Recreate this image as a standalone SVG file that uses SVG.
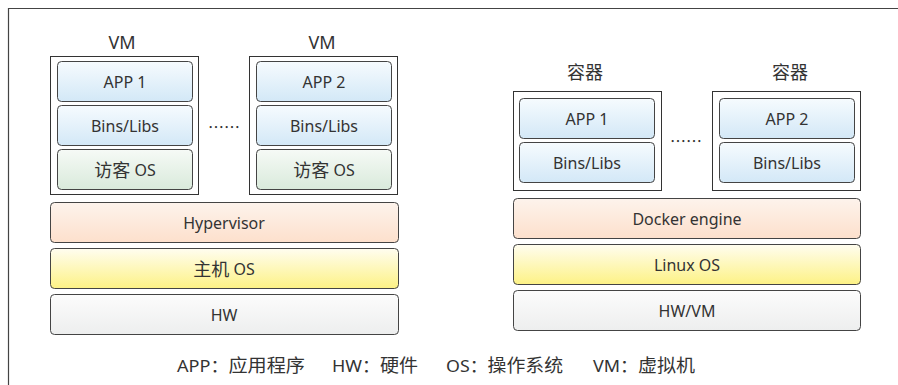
<svg xmlns="http://www.w3.org/2000/svg" width="898" height="385" viewBox="0 0 898 385">
<defs>
<linearGradient id="gBlue" x1="0" y1="0" x2="0" y2="1"><stop offset="0" stop-color="#f6fbfe"/><stop offset="1" stop-color="#d3e8f7"/></linearGradient>
<linearGradient id="gGreen" x1="0" y1="0" x2="0" y2="1"><stop offset="0" stop-color="#f6faf6"/><stop offset="1" stop-color="#d9eadb"/></linearGradient>
<linearGradient id="gPeach" x1="0" y1="0" x2="0" y2="1"><stop offset="0" stop-color="#fdf3ec"/><stop offset="1" stop-color="#fde0cc"/></linearGradient>
<linearGradient id="gYellow" x1="0" y1="0" x2="0" y2="1"><stop offset="0" stop-color="#fffdf0"/><stop offset="1" stop-color="#fdf285"/></linearGradient>
<linearGradient id="gGray" x1="0" y1="0" x2="0" y2="1"><stop offset="0" stop-color="#fcfcfc"/><stop offset="1" stop-color="#edeeee"/></linearGradient>
<style>
.t{font-family:"Noto Sans","Noto Sans CJK SC",sans-serif;font-size:16px;fill:#333;text-anchor:middle;dominant-baseline:central}
.lg{font-family:"Noto Sans","Noto Sans CJK SC",sans-serif;font-size:17px;fill:#333;dominant-baseline:central}
.dots{font-family:"Noto Sans CJK SC",sans-serif;font-size:16px;fill:#333;dominant-baseline:central}
.cj{font-size:18px}
.lyr{stroke:#444;stroke-width:1}
.box{fill:#fff;stroke:#333;stroke-width:1}
.blue{fill:url(#gBlue)}
.green{fill:url(#gGreen)}
.peach{fill:url(#gPeach)}
.yellow{fill:url(#gYellow)}
.gray{fill:url(#gGray)}
</style>
</defs>
<rect width="898" height="385" fill="#fff"/>
<path d="M8.5,385 V8.5 H898" fill="none" stroke="#444" stroke-width="1.2"/>

<g id="vm1">
<text class="t cj" x="122" y="42">VM</text>
<rect class="box" x="50.5" y="56.5" width="148" height="138"/>
<rect class="lyr blue" x="57.5" y="61.5" width="135" height="40" rx="4"/>
<text class="t" x="125" y="81.5">APP 1</text>
<rect class="lyr blue" x="57.5" y="105.5" width="135" height="40" rx="4"/>
<text class="t" x="125" y="125.5">Bins/Libs</text>
<rect class="lyr green" x="57.5" y="149.5" width="135" height="40" rx="4"/>
<text class="t" x="125" y="169.5"><tspan class="cj">访客</tspan> OS</text>
</g>
<g id="vm2">
<text class="t cj" x="322" y="42">VM</text>
<rect class="box" x="249.5" y="56.5" width="148" height="138"/>
<rect class="lyr blue" x="256.5" y="61.5" width="135" height="40" rx="4"/>
<text class="t" x="324" y="81.5">APP 2</text>
<rect class="lyr blue" x="256.5" y="105.5" width="135" height="40" rx="4"/>
<text class="t" x="324" y="125.5">Bins/Libs</text>
<rect class="lyr green" x="256.5" y="149.5" width="135" height="40" rx="4"/>
<text class="t" x="324" y="169.5"><tspan class="cj">访客</tspan> OS</text>
</g>
<g id="dots1"><text class="dots" x="208" y="126">……</text></g>
<g id="hypervisor">
<rect class="lyr peach" x="50.5" y="202.5" width="348" height="40" rx="4"/>
<text class="t" x="224" y="222.5">Hypervisor</text>
</g>
<g id="hostos">
<rect class="lyr yellow" x="50.5" y="248.5" width="348" height="40" rx="4"/>
<text class="t" x="224" y="268.5"><tspan class="cj">主机</tspan> OS</text>
</g>
<g id="hw">
<rect class="lyr gray" x="50.5" y="294.5" width="348" height="40" rx="4"/>
<text class="t" x="224" y="314.5">HW</text>
</g>

<g id="c1">
<text class="t cj" x="585" y="72">容器</text>
<rect class="box" x="513.5" y="91.5" width="148" height="99"/>
<rect class="lyr blue" x="519.5" y="98.5" width="135" height="40" rx="4"/>
<text class="t" x="587" y="118.5">APP 1</text>
<rect class="lyr blue" x="519.5" y="142.5" width="135" height="40" rx="4"/>
<text class="t" x="587" y="162.5">Bins/Libs</text>
</g>
<g id="c2">
<text class="t cj" x="790" y="72">容器</text>
<rect class="box" x="712.5" y="91.5" width="148" height="99"/>
<rect class="lyr blue" x="719.5" y="98.5" width="135" height="40" rx="4"/>
<text class="t" x="787" y="118.5">APP 2</text>
<rect class="lyr blue" x="719.5" y="142.5" width="135" height="40" rx="4"/>
<text class="t" x="787" y="162.5">Bins/Libs</text>
</g>
<g id="dots2"><text class="dots" x="670" y="140">……</text></g>
<g id="docker">
<rect class="lyr peach" x="513.5" y="198.5" width="347" height="40" rx="4"/>
<text class="t" x="687" y="218.5">Docker engine</text>
</g>
<g id="linuxos">
<rect class="lyr yellow" x="513.5" y="244.5" width="347" height="40" rx="4"/>
<text class="t" x="687" y="264.5">Linux OS</text>
</g>
<g id="hwvm">
<rect class="lyr gray" x="513.5" y="290.5" width="347" height="40" rx="4"/>
<text class="t" x="687" y="310.5">HW/VM</text>
</g>
<g id="connectors"/>
<g id="legend">
<text class="lg" x="177" y="365" textLength="128" lengthAdjust="spacingAndGlyphs">APP：<tspan class="cj">应用程序</tspan></text>
<text class="lg" x="332" y="365" textLength="86" lengthAdjust="spacingAndGlyphs">HW：<tspan class="cj">硬件</tspan></text>
<text class="lg" x="446" y="365" textLength="117" lengthAdjust="spacingAndGlyphs">OS：<tspan class="cj">操作系统</tspan></text>
<text class="lg" x="593" y="365" textLength="102" lengthAdjust="spacingAndGlyphs">VM：<tspan class="cj">虚拟机</tspan></text>
</g>
</svg>
